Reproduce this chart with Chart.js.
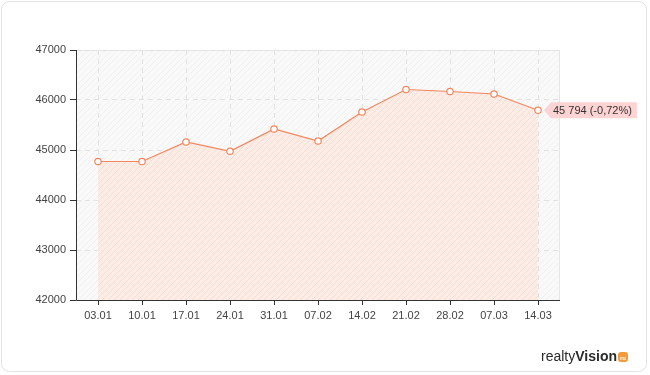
<!DOCTYPE html>
<html>
<head>
<meta charset="utf-8">
<script src="https://cdn.jsdelivr.net/npm/chart.js@4/dist/chart.umd.min.js"></script>
<style>
  html, body { margin: 0; padding: 0; background: #fff; }
  #wrap { width: 650px; height: 375px; position: relative; }
</style>
</head>
<body>
<div id="wrap"><canvas id="chart" width="650" height="375"></canvas></div>
<script>
// ── Data ────────────────────────────────────────────────────────────────
var dates  = ['03.01', '10.01', '17.01', '24.01', '31.01', '07.02', '14.02', '21.02', '28.02', '07.03', '14.03'];
var prices = [44770, 44770, 45160, 44975, 45420, 45180, 45760, 46210, 46170, 46120, 45794];
var yTicks = [42000, 43000, 44000, 45000, 46000, 47000];
var lastLabel = '45 794 (-0,72%)';

var LINE = '#f5875f';
var FONT = '"Liberation Sans", Arial, sans-serif';

function hatch(bg, stroke) {
    var c = document.createElement('canvas');
    c.width = 6; c.height = 6;
    var x = c.getContext('2d');
    x.fillStyle = bg; x.fillRect(0, 0, 6, 6);
    x.strokeStyle = stroke; x.lineWidth = 1;
    x.beginPath();
    x.moveTo(0, 6); x.lineTo(6, 0);
    x.moveTo(-1, 1); x.lineTo(1, -1);
    x.moveTo(5, 7); x.lineTo(7, 5);
    x.stroke();
    return x.createPattern(c, 'repeat');
}

var ctx = document.getElementById('chart').getContext('2d');
var plotBg = hatch('#f9f9f9', '#f1f1f1');
var areaBg = hatch('#fbece6', '#f6ddd4');

function roundRect(c, x, y, w, h, r) {
    c.beginPath();
    c.moveTo(x + r, y);
    c.arcTo(x + w, y, x + w, y + h, r);
    c.arcTo(x + w, y + h, x, y + h, r);
    c.arcTo(x, y + h, x, y, r);
    c.arcTo(x, y, x + w, y, r);
    c.closePath();
}

// frame, plot background, axis lines, value tag, logo
var framePlugin = {
    id: 'frame',
    beforeDraw: function(chart) {
        var c = chart.ctx, a = chart.chartArea;
        c.save();
        c.fillStyle = '#fff';
        c.fillRect(0, 0, chart.width, chart.height);
        roundRect(c, 1.5, 1.5, 645, 370, 8);
        c.strokeStyle = '#e2e2e2'; c.lineWidth = 1; c.stroke();
        c.fillStyle = plotBg;
        c.fillRect(a.left, a.top, a.right - a.left, a.bottom - a.top);
        c.strokeStyle = '#e6e6e6';
        c.beginPath();
        c.moveTo(a.left, a.top + 0.5); c.lineTo(a.right - 0.5, a.top + 0.5); c.lineTo(a.right - 0.5, a.bottom);
        c.stroke();
        c.restore();
    },
    afterDraw: function(chart) {
        var c = chart.ctx, a = chart.chartArea;
        var meta = chart.getDatasetMeta(0);
        var p = meta.data[meta.data.length - 1];
        c.save();
        // solid axis lines
        c.strokeStyle = '#333'; c.lineWidth = 1;
        c.beginPath();
        c.moveTo(Math.round(a.left) + 0.5, a.top);
        c.lineTo(Math.round(a.left) + 0.5, Math.round(a.bottom) + 0.5);
        c.lineTo(a.right, Math.round(a.bottom) + 0.5);
        c.stroke();
        // last value tag
        c.font = '11px ' + FONT;
        var tw = c.measureText(lastLabel).width;
        var x0 = p.x + 6, y0 = p.y;
        c.fillStyle = '#fdd3d3';
        c.beginPath();
        c.moveTo(x0, y0);
        c.lineTo(x0 + 7, y0 - 8);
        c.lineTo(x0 + 14 + tw, y0 - 8);
        c.lineTo(x0 + 14 + tw, y0 + 8);
        c.lineTo(x0 + 7, y0 + 8);
        c.closePath();
        c.fill();
        c.fillStyle = '#333';
        c.textBaseline = 'middle';
        c.fillText(lastLabel, x0 + 9, y0 + 0.5);
        // logo
        c.textBaseline = 'alphabetic';
        c.fillStyle = '#2a2a2a';
        c.font = '14px ' + FONT;
        var w1 = c.measureText('realty').width;
        c.fillText('realty', 541, 361);
        c.font = 'bold 14px ' + FONT;
        c.fillText('Vision', 541 + w1, 361);
        var w2 = c.measureText('Vision').width;
        var bx = 541 + w1 + w2 + 1;
        c.fillStyle = '#f39a3a';
        roundRect(c, bx, 352, 10, 10, 3);
        c.fill();
        c.fillStyle = '#fff';
        c.font = 'bold 6px ' + FONT;
        c.textAlign = 'center';
        c.fillText('ru', bx + 5, 359.5);
        c.restore();
    }
};

new Chart(ctx, {
    type: 'line',
    data: {
        labels: dates,
        datasets: [{
            data: prices,
            borderColor: LINE,
            borderWidth: 1.2,
            backgroundColor: areaBg,
            fill: 'start',
            tension: 0,
            pointRadius: 3.2,
            pointBorderWidth: 1.2,
            pointBackgroundColor: '#fff',
            pointBorderColor: LINE
        }]
    },
    options: {
        responsive: false,
        animation: false,
        layout: { padding: { left: 0, top: 50, right: 90, bottom: 45 } },
        plugins: { legend: { display: false }, tooltip: { enabled: false } },
        scales: {
            x: {
                offset: true,
                afterFit: function(s) { s.height = 30; },
                border: { display: false, dash: [5, 4] },
                grid: {
                    offset: false,
                    color: '#e2e2e2',
                    tickColor: '#333',
                    tickLength: 5,
                    tickBorderDash: []
                },
                ticks: { color: '#444', font: { family: FONT, size: 11 }, padding: 4, maxRotation: 0, autoSkip: false }
            },
            y: {
                min: yTicks[0],
                max: yTicks[yTicks.length - 1],
                afterFit: function(s) { s.width = 76; },
                afterBuildTicks: function(s) { s.ticks = yTicks.map(function(v) { return { value: v }; }); },
                border: { display: false, dash: [5, 4] },
                grid: {
                    color: '#e2e2e2',
                    tickColor: '#333',
                    tickLength: 6,
                    tickBorderDash: []
                },
                ticks: {
                    color: '#444',
                    font: { family: FONT, size: 11 },
                    padding: 4,
                    callback: function(v) { return String(v); }
                }
            }
        }
    },
    plugins: [framePlugin]
});
</script>
</body>
</html>
